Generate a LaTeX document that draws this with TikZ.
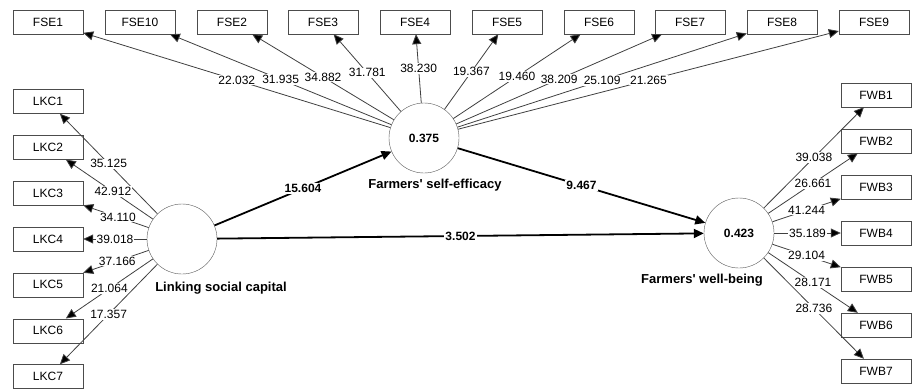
\documentclass[tikz,border=0pt]{standalone}
\usepackage{fontspec}
\setmainfont{Liberation Sans}
\usepackage{tikz}
\usetikzlibrary{arrows.meta}

\tikzset{
	item/.style={shape=rectangle,draw=black!70,minimum width=70pt,minimum height=24pt,inner sep=0pt,font=\fontsize{12}{14}\selectfont},
	latent/.style={shape=circle,draw=black!65,minimum size=70pt,inner sep=0pt,font=\fontsize{12}{14}\selectfont},
	lvtext/.style={font=\fontsize{13}{15}\selectfont},
	loadline/.style={->,draw=black!75,line width=0.8pt},
	coefline/.style={->,draw=black,line width=1.8pt},
	loadval/.style={fill=white,inner sep=1pt,font=\fontsize{12}{14}\selectfont},
	>={Triangle[length=10pt,width=9pt]}
}

\begin{document}
\begin{tikzpicture}[x=1pt,y=-1pt]
	\useasboundingbox (0,0) rectangle (912,388);

	\node[latent] (se) at (424, 138)     {\textbf{0.375}};
	\node[latent] (lc) at (182, 239)     {};
	\node[latent] (wb) at (739, 233)     {\textbf{0.423}};

	\node[lvtext] (setext) at (435, 185)     {\textbf{Farmers\textquotesingle{} self-efficacy}};
	\node[lvtext] (lctext) at (221, 288)     {\textbf{Linking social capital}};
	\node[lvtext] (wbtext) at (702, 280)     {\textbf{Farmers\textquotesingle{} well-being}};

	\node[item] (fse1) at (48, 22)      {FSE1};
	\node[item] (fse10) at (140, 22)     {FSE10};
	\node[item] (fse2) at (232, 22)      {FSE2};
	\node[item] (fse3) at (323, 22)      {FSE3};
	\node[item] (fse4) at (415, 22)      {FSE4};
	\node[item] (fse5) at (507, 22)      {FSE5};
	\node[item] (fse6) at (599, 22)      {FSE6};
	\node[item] (fse7) at (690, 22)      {FSE7};
	\node[item] (fse8) at (782, 22)      {FSE8};
	\node[item] (fse9) at (874, 22)      {FSE9};

	\node[item] (lkc1) at (48, 101.5)   {LKC1};
	\node[item] (lkc2) at (48, 147.3)   {LKC2};
	\node[item] (lkc3) at (48, 193.2)   {LKC3};
	\node[item] (lkc4) at (48, 239)     {LKC4};
	\node[item] (lkc5) at (48, 284.8)   {LKC5};
	\node[item] (lkc6) at (48, 330.7)   {LKC6};
	\node[item] (lkc7) at (48, 376.5)   {LKC7};

	\node[item] (fwb1) at (876, 95)      {FWB1};
	\node[item] (fwb2) at (876, 141)     {FWB2};
	\node[item] (fwb3) at (876, 187)     {FWB3};
	\node[item] (fwb4) at (876, 233)     {FWB4};
	\node[item] (fwb5) at (876, 279)     {FWB5};
	\node[item] (fwb6) at (876, 325)     {FWB6};
	\node[item] (fwb7) at (876, 371)     {FWB7};


    \path[loadline] (se) edge node[loadval] {22.032} (fse1);
    \path[loadline] (se) edge node[loadval] {31.935} (fse10);
    \path[loadline] (se) edge node[loadval] {34.882} (fse2);
    \path[loadline] (se) edge node[loadval] {31.781} (fse3);
    \path[loadline] (se) edge node[loadval] {38.230} (fse4);
    \path[loadline] (se) edge node[loadval] {19.367} (fse5);
    \path[loadline] (se) edge node[loadval] {19.460} (fse6);
    \path[loadline] (se) edge node[loadval] {38.209} (fse7);
    \path[loadline] (se) edge node[loadval] {25.109} (fse8);
    \path[loadline] (se) edge node[loadval] {21.265} (fse9);

    \path[loadline] (lc) edge node[loadval] {35.125} (lkc1);
    \path[loadline] (lc) edge node[loadval, pos=0.46] {42.912} (lkc2);
    \path[loadline] (lc) edge node[loadval, pos=0.47] {34.110} (lkc3);
    \path[loadline] (lc) edge node[loadval] {39.018} (lkc4);
    \path[loadline] (lc) edge node[loadval, pos=0.48] {37.166} (lkc5);
    \path[loadline] (lc) edge node[loadval] {21.064} (lkc6);
    \path[loadline] (lc) edge node[loadval] {17.357} (lkc7);

    \path[loadline] (wb) edge node[loadval] {39.038} (fwb1);
    \path[loadline] (wb) edge node[loadval] {26.661} (fwb2);
    \path[loadline] (wb) edge node[loadval] {41.244} (fwb3);
    \path[loadline] (wb) edge node[loadval] {35.189} (fwb4);
    \path[loadline] (wb) edge node[loadval] {29.104} (fwb5);
    \path[loadline] (wb) edge node[loadval] {28.171} (fwb6);
    \path[loadline] (wb) edge node[loadval] {28.736} (fwb7);

    \path[coefline] (lc) edge node[loadval] {\textbf{15.604}} (se);
    \path[coefline] (se) edge node[loadval] {\textbf{9.467}} (wb);
    \path[coefline] (lc) edge node[loadval] {\textbf{3.502}} (wb);

	\end{tikzpicture}
\end{document}
